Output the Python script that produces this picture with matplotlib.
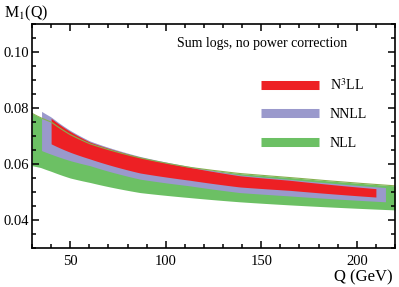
import matplotlib
matplotlib.use("Agg")
import matplotlib.pyplot as plt
from matplotlib.lines import Line2D
from matplotlib.ticker import MultipleLocator, FormatStrFormatter
import numpy as np

plt.rcParams['font.family'] = ['Liberation Serif', 'DejaVu Serif']
plt.rcParams['mathtext.fontset'] = 'stix'

# N3LL band
q_n3ll = [40, 50, 60.4, 86.5, 112.6, 138.7, 164.8, 210]
n3ll_top = [0.0763, 0.0716, 0.0678, 0.0624, 0.0588, 0.0558, 0.0542, 0.0512]
n3ll_bot = [0.0672, 0.0642, 0.0618, 0.0568, 0.0542, 0.0518, 0.0506, 0.0482]

# NNLL band
q_nnll = [35, 40, 50, 60.4, 86.5, 112.6, 138.7, 164.8, 215]
nnll_top = [0.0788, 0.0768, 0.0720, 0.0682, 0.0627, 0.0591, 0.0561, 0.0545, 0.0516]
nnll_bot = [0.0648, 0.0635, 0.0612, 0.0594, 0.0546, 0.0522, 0.0498, 0.0486, 0.0465]

# NLL band
q_nll = [30, 34.3, 40, 50, 60.4, 86.5, 112.6, 138.7, 164.8, 220]
nll_top = [0.0781, 0.0766, 0.0750, 0.0705, 0.0672, 0.0622, 0.0588, 0.0566, 0.0552, 0.0522]
nll_bot = [0.0594, 0.0588, 0.0574, 0.0550, 0.0534, 0.0498, 0.0480, 0.0465, 0.0454, 0.0436]

labels = [r'N$^3$LL', 'NNLL', 'NLL']
colors = ['#ED2024', '#9A99CC', '#6CC064']

def smooth(q, v, n=200):
    q = np.asarray(q, float); v = np.asarray(v, float)
    lq = np.log(q)
    qq = np.linspace(q[0], q[-1], n)
    return qq, np.interp(np.log(qq), lq, v)

fig = plt.figure(figsize=(3.99, 2.87), dpi=100)
ax = fig.add_axes([32/399, 39/287, 363/399, 224/287])

for q, t, b, c in [(q_nll, nll_top, nll_bot, colors[2]),
                   (q_nnll, nnll_top, nnll_bot, colors[1]),
                   (q_n3ll, n3ll_top, n3ll_bot, colors[0])]:
    qq, tt = smooth(q, t)
    _, bb = smooth(q, b)
    ax.fill_between(qq, bb, tt, color=c, lw=0)

qq, tt = smooth(q_nll, nll_top)
ax.plot(qq, tt, color='#86b050', lw=0.8)

ax.set_xlim(30, 220)
ax.set_ylim(0.03, 0.11)
ax.xaxis.set_major_locator(MultipleLocator(50))
ax.xaxis.set_minor_locator(MultipleLocator(10))
ax.yaxis.set_major_locator(MultipleLocator(0.02))
ax.yaxis.set_minor_locator(MultipleLocator(0.005))
ax.yaxis.set_major_formatter(FormatStrFormatter('%.2f'))
ax.tick_params(which='both', direction='in', top=True, right=True, labelsize=10.5, width=1.1)
ax.tick_params(axis='x', pad=5)
ax.tick_params(axis='y', pad=2)
ax.tick_params(which='major', length=5)
ax.tick_params(which='minor', length=3)
for s in ax.spines.values():
    s.set_linewidth(1.2)

fig.text(4/399, 1 - 13/287, r'M$_1$(Q)', fontsize=11.5, va='center', ha='left')
fig.text(393/399, 1 - 277/287, 'Q (GeV)', fontsize=12, va='center', ha='right')
ax.text(105.7, 0.1030, 'Sum logs, no power correction', fontsize=10, va='center', ha='left')

handles = [Line2D([], [], color=c, lw=6.5, solid_capstyle='butt') for c in colors]
leg = ax.legend(handles, labels, loc='upper left', bbox_to_anchor=(0.612, 0.795),
                frameon=False, fontsize=10, handlelength=4.2, labelspacing=1.12,
                handletextpad=0.75, borderpad=0)

fig.savefig('out.png', dpi=100)
